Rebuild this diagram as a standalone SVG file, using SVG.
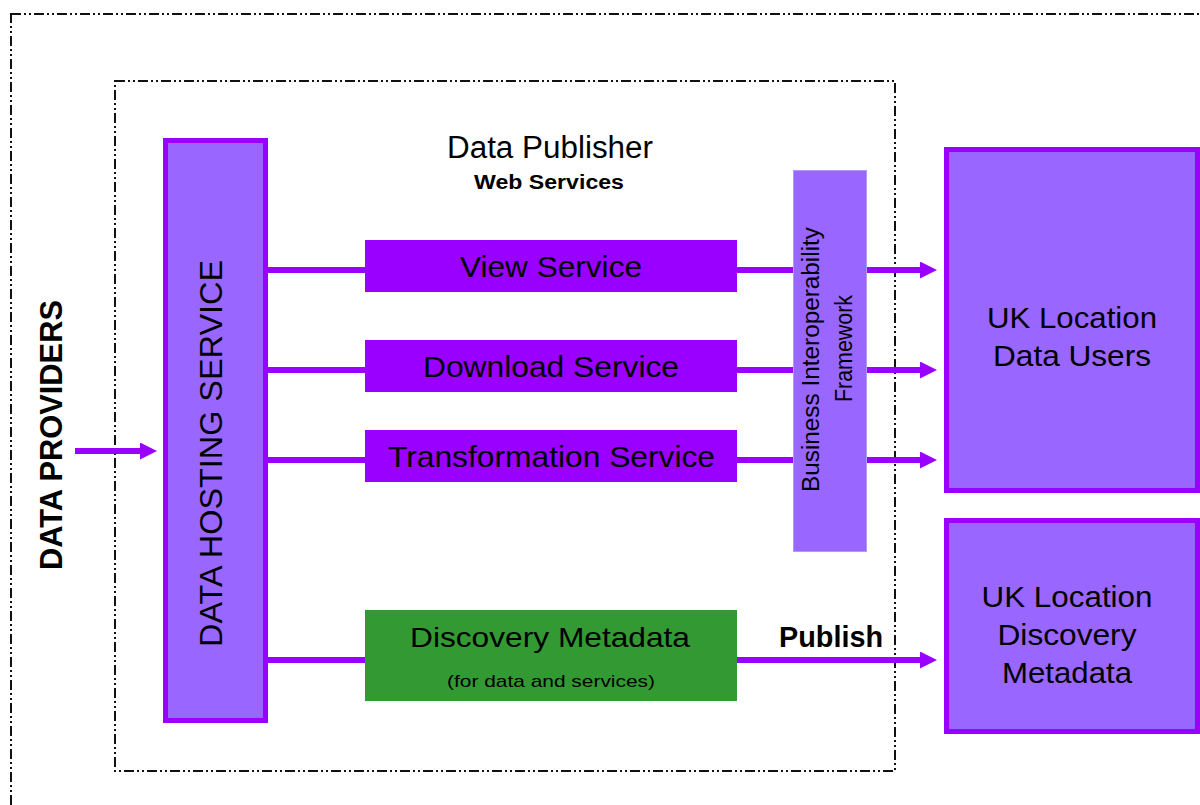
<svg xmlns="http://www.w3.org/2000/svg" width="1200" height="805" viewBox="0 0 1200 805">
<style>
  .frame { fill: none; stroke: #111; stroke-width: 2; stroke-dasharray: 10 3 2 3 2 3; }
  .boxL { fill: #9966ff; stroke: #9900ff; stroke-width: 5; }
  .bif { fill: #9966ff; stroke: #b399ff; stroke-width: 1; }
  .svc { fill: #9900ff; }
  .green { fill: #339933; }
  .conn { stroke: #9900ff; stroke-width: 6; fill: none; }
  text { font-family: "Liberation Sans", Arial, sans-serif; fill: #000; }
  .t30 { font-size: 30px; }
  .mid { text-anchor: middle; }
  .bold { font-weight: bold; }
</style>
<defs>
  <marker id="ah" markerUnits="userSpaceOnUse" markerWidth="18" markerHeight="18" refX="1" refY="8.5" orient="auto">
    <path d="M0,0 L17,8.5 L0,17 z" fill="#9900ff"/>
  </marker>
</defs>
<rect width="1200" height="805" fill="#fff"/>

<g id="outer-frame"><rect class="frame" x="11" y="14" width="1220" height="820"/></g>
<g id="data-publisher-frame">
  <rect class="frame" x="115" y="81" width="780" height="690"/>
  <text class="mid" x="550" y="158" font-size="31" textLength="206" lengthAdjust="spacingAndGlyphs">Data Publisher</text>
  <text class="mid bold" x="549" y="189" font-size="20" textLength="150" lengthAdjust="spacingAndGlyphs">Web Services</text>
</g>

<g id="connectors">
  <line class="conn" x1="75" y1="451" x2="141" y2="451" marker-end="url(#ah)"/>
  <line class="conn" x1="268" y1="270" x2="365" y2="270"/>
  <line class="conn" x1="737" y1="270" x2="793" y2="270"/>
  <line class="conn" x1="867" y1="270" x2="921" y2="270" marker-end="url(#ah)"/>
  <line class="conn" x1="268" y1="370" x2="365" y2="370"/>
  <line class="conn" x1="737" y1="370" x2="793" y2="370"/>
  <line class="conn" x1="867" y1="370" x2="921" y2="370" marker-end="url(#ah)"/>
  <line class="conn" x1="268" y1="460" x2="365" y2="460"/>
  <line class="conn" x1="737" y1="460" x2="793" y2="460"/>
  <line class="conn" x1="867" y1="460" x2="921" y2="460" marker-end="url(#ah)"/>
  <line class="conn" x1="268" y1="660" x2="365" y2="660"/>
  <line class="conn" x1="737" y1="660" x2="921" y2="660" marker-end="url(#ah)"/>
  <text class="bold" x="779" y="647" font-size="29" textLength="104" lengthAdjust="spacingAndGlyphs">Publish</text>
</g>

<g id="data-providers">
  <text class="mid bold" transform="translate(62,435) rotate(-90)" font-size="31" textLength="270" lengthAdjust="spacingAndGlyphs">DATA PROVIDERS</text>
</g>

<g id="data-hosting-service">
  <rect class="boxL" x="165.5" y="140.5" width="100" height="580"/>
  <text class="mid" transform="translate(222,453.5) rotate(-90)" font-size="31" textLength="387" lengthAdjust="spacingAndGlyphs">DATA HOSTING SERVICE</text>
</g>

<g id="view-service">
  <rect class="svc" x="365" y="240" width="372" height="52"/>
  <text class="mid" x="551" y="277" font-size="30" textLength="182" lengthAdjust="spacingAndGlyphs">View Service</text>
</g>
<g id="download-service">
  <rect class="svc" x="365" y="340" width="372" height="52"/>
  <text class="mid" x="551" y="377" font-size="30" textLength="256" lengthAdjust="spacingAndGlyphs">Download Service</text>
</g>
<g id="transformation-service">
  <rect class="svc" x="365" y="430" width="372" height="52"/>
  <text class="mid" x="551.5" y="467" font-size="30" textLength="327" lengthAdjust="spacingAndGlyphs">Transformation Service</text>
</g>
<g id="discovery-metadata">
  <rect class="green" x="365" y="610" width="372" height="91"/>
  <text class="mid" x="550" y="647" font-size="28" textLength="280" lengthAdjust="spacingAndGlyphs">Discovery Metadata</text>
  <text class="mid" x="551" y="687" font-size="17" textLength="208" lengthAdjust="spacingAndGlyphs">(for data and services)</text>
</g>

<g id="business-interoperability-framework">
  <rect class="bif" x="793.5" y="170.5" width="73" height="381"/>
  <text class="mid" transform="translate(819,359.5) rotate(-90)" font-size="23" textLength="265" lengthAdjust="spacingAndGlyphs">Business Interoperability</text>
  <text class="mid" transform="translate(852,348.5) rotate(-90)" font-size="23" textLength="107" lengthAdjust="spacingAndGlyphs">Framework</text>
</g>

<g id="uk-location-data-users">
  <rect class="boxL" x="946.5" y="149.5" width="251" height="341"/>
  <text class="mid t30" x="1072" y="328" textLength="170" lengthAdjust="spacingAndGlyphs">UK Location</text>
  <text class="mid t30" x="1072" y="366" textLength="158" lengthAdjust="spacingAndGlyphs">Data Users</text>
</g>

<g id="uk-location-discovery-metadata">
  <rect class="boxL" x="946.5" y="520.5" width="251" height="211"/>
  <text class="mid t30" x="1067" y="607" textLength="171" lengthAdjust="spacingAndGlyphs">UK Location</text>
  <text class="mid t30" x="1067" y="645" textLength="139" lengthAdjust="spacingAndGlyphs">Discovery</text>
  <text class="mid t30" x="1067" y="683" textLength="130" lengthAdjust="spacingAndGlyphs">Metadata</text>
</g>
</svg>
